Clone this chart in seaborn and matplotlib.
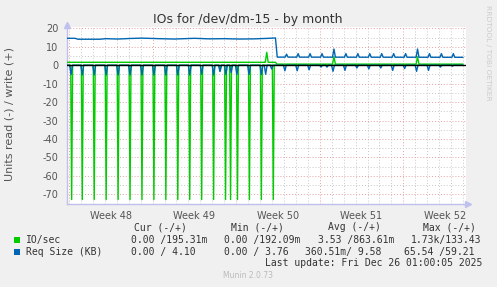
import numpy as np
import pandas as pd
import matplotlib
matplotlib.use("Agg")
import matplotlib.pyplot as plt
import seaborn as sns

# ---------------- data (x in days from start of Week 48) ----------------
week_labels = ["Week 48", "Week 49", "Week 50", "Week 51", "Week 52"]
week_starts = [0, 7, 14, 21, 28]
x_start, x_end = -0.17, 33.25

# IO/sec read (plotted negative): baseline + daily spikes
io_read_base_days = [-0.17, 33.0]
io_read_base_vals = [0.0, 0.0]
io_read_spike_days = [0.22, 1.11, 2.11, 3.11, 4.11, 5.11, 6.11, 7.11, 8.11, 9.11,
                      10.11, 11.11, 12.11, 12.67, 13.11, 13.53, 14.11, 15.11, 16.11, 17.11]
io_read_spike_vals = [72.8, 72.8, 72.8, 72.8, 72.8, 72.8, 72.8, 72.8, 72.8, 72.8,
                      72.8, 72.8, 72.8, 3.1, 72.8, 72.8, 72.8, 72.8, 72.8, 72.8]

# IO/sec write (positive)
io_write_base_days = [-0.17, 16.4, 17.29, 17.42, 33.0]
io_write_base_vals = [1.6, 1.6, 1.6, 0.6, 0.6]
io_write_spike_days = [16.56, 22.19, 29.19]
io_write_spike_vals = [7.0, 4.6, 4.6]

# Req Size (KB) write (positive)
rs_write_base_days = [-0.17, 0.5, 0.75, 2.58, 3.08, 4.08, 5.08, 6.08, 7.58, 8.83,
                      10.5, 11.75, 13.0, 14.25, 15.5, 16.75, 17.29, 17.44, 33.0]
rs_write_base_vals = [14.6, 14.6, 14.1, 14.1, 14.4, 14.2, 14.5, 14.7, 14.4, 14.2,
                      14.6, 14.3, 14.4, 14.2, 14.3, 14.6, 14.8, 4.4, 4.3]
rs_write_spike_days = [18.22, 19.19, 20.19, 21.19, 22.19, 23.19, 24.19, 25.19,
                       26.19, 27.19, 28.19, 29.19, 30.19, 31.19, 32.19]
rs_write_spike_vals = [6.0, 6.3, 6.3, 6.3, 8.8, 6.3, 6.3, 6.3,
                       6.3, 6.3, 6.3, 8.8, 6.3, 6.3, 6.3]

# Req Size (KB) read (plotted negative)
rs_read_base_days = [-0.17, 33.0]
rs_read_base_vals = [0.0, 0.0]
rs_read_spike_days = [0.17, 1.11, 2.11, 3.11, 4.11, 5.11, 6.11, 7.11, 8.11, 9.11,
                      10.11, 11.11, 12.11, 12.64, 13.14, 13.58, 14.06, 15.08, 16.11,
                      16.47, 16.97, 18.08, 19.11, 20.11, 21.11, 21.61, 22.11, 23.11,
                      24.11, 25.11, 26.11, 27.11, 28.11, 29.11, 30.11, 31.11, 32.11]
rs_read_spike_vals = [5.0, 5.3, 5.3, 5.3, 5.3, 5.3, 5.3, 5.3, 5.3, 5.3,
                      5.3, 4.9, 5.3, 3.4, 5.0, 4.0, 5.0, 5.0, 5.0,
                      4.9, 2.0, 3.0, 3.0, 2.5, 1.0, 1.0, 3.3, 2.8,
                      1.5, 2.0, 1.5, 2.8, 1.8, 3.3, 2.8, 1.0, 0.5]

legend_header = ["Cur (-/+)", "Min (-/+)", "Avg (-/+)", "Max (-/+)"]
io_stats = ["0.00 /195.31m", "0.00 /192.09m", "3.53 /863.61m", "1.73k/133.43"]
rs_stats = ["0.00 / 4.10", "0.00 / 3.76", "360.51m/ 9.58", "65.54 /59.21"]

GREEN = "#00CC00"
BLUE = "#0066B3"


def build(base_d, base_v, spike_d, spike_v, half, sign=1.0):
    xs = list(base_d)
    ys = list(base_v)
    for d, v in zip(spike_d, spike_v):
        b = float(np.interp(d, base_d, base_v))
        xs += [d - half, d, d + half]
        ys += [b, v, b]
    order = np.argsort(np.array(xs), kind="stable")
    return pd.DataFrame({"day": np.array(xs)[order],
                         "value": sign * np.array(ys)[order]})


io_read = build(io_read_base_days, io_read_base_vals, io_read_spike_days, io_read_spike_vals, 0.08, -1)
io_write = build(io_write_base_days, io_write_base_vals, io_write_spike_days, io_write_spike_vals, 0.12)
rs_write = build(rs_write_base_days, rs_write_base_vals, rs_write_spike_days, rs_write_spike_vals, 0.12)
rs_read = build(rs_read_base_days, rs_read_base_vals, rs_read_spike_days, rs_read_spike_vals, 0.12, -1)

# ---------------- figure ----------------
sns.set_style("white")
plt.rcParams["font.family"] = ["DejaVu Sans"]

W, H = 497, 287
fig = plt.figure(figsize=(W / 100, H / 100), dpi=100, facecolor="#F0F0F0")
ax = fig.add_axes([67 / W, 1 - 203.6 / H, (466 - 67) / W, (203.6 - 26.5) / H])
ax.set_facecolor("white")
ax.set_xlim(x_start, x_end)
ax.set_ylim(-75, 21)

dot = (0, (1, 2))
for d in range(0, 34):
    if d in week_starts:
        continue
    ax.axvline(d, color="#C8C8C8", lw=0.7, ls=dot, zorder=1)
for d in week_starts:
    ax.axvline(d, color="#E8A0A0", lw=0.7, ls=dot, zorder=1)
for yv in range(-75, 21, 5):
    if yv == 0:
        continue
    col = "#E8A0A0" if yv % 10 == 0 else "#C8C8C8"
    ax.axhline(yv, color=col, lw=0.7, ls=dot, zorder=1)

for df, col in [(io_read, GREEN), (io_write, GREEN), (rs_read, BLUE), (rs_write, BLUE)]:
    sns.lineplot(data=df, x="day", y="value", estimator=None, sort=False,
                 color=col, linewidth=1.0, ax=ax, legend=False, zorder=3)

ax.axhline(0, color="black", lw=1.0, zorder=4)

# axes
for s in ["top", "right"]:
    ax.spines[s].set_visible(False)
for s in ["left", "bottom"]:
    ax.spines[s].set_color("#C0C0EE")
    ax.spines[s].set_linewidth(1.0)
ax.plot([x_start], [22.0], marker="^", ms=4.5, color="#C0C0EE", clip_on=False, zorder=5)
ax.plot([33.45], [-75], marker=">", ms=4.5, color="#C0C0EE", clip_on=False, zorder=5)

ax.set_yticks(list(range(-70, 21, 10)))
ax.set_yticklabels([str(v) for v in range(-70, 21, 10)])
ax.set_yticks(list(range(-75, 21, 5)), minor=True)
ax.tick_params(axis="y", which="major", length=2, color="#E09090", labelsize=7,
               labelcolor="#555555", pad=4)
ax.tick_params(axis="y", which="minor", length=2, color="#C8C8C8")

ax.set_xticks([s + 3.5 for s in week_starts])
ax.set_xticklabels(week_labels)
ax.set_xticks(list(range(0, 34)), minor=True)
ax.tick_params(axis="x", which="major", length=0, labelsize=7, labelcolor="#555555", pad=5)
ax.tick_params(axis="x", which="minor", length=2, color="#C8C8C8")
ax.set_xlabel("")
ax.set_ylabel("")

# texts
def fx(px):
    return px / W

def fy(py):
    return 1 - py / H

fig.text(fx(248), fy(19.5), "IOs for /dev/dm-15 - by month", ha="center", va="center",
         fontsize=9, color="#333333")
fig.text(fx(10), fy(114), "Units read (-) / write (+)", rotation=90, ha="center",
         va="center", fontsize=8, color="#555555")
fig.text(fx(488), fy(53), "RRDTOOL / TOBI OETIKER", rotation=-90, ha="center", va="center",
         fontsize=5.4, color="#CCCCCC")

mono = "DejaVu Sans Mono"
tc = "#333333"
for x0, t in zip([134.3, 230.7, 327.7, 422.7], legend_header):
    fig.text(fx(x0), fy(227.5), t, ha="left", va="center", fontsize=7, family=mono, color=tc)

fig.patches.append(plt.Rectangle((fx(14), fy(243)), 6 / W, 6 / H, transform=fig.transFigure,
                                 facecolor=GREEN, edgecolor="none"))
fig.patches.append(plt.Rectangle((fx(14), fy(255)), 6 / W, 6 / H, transform=fig.transFigure,
                                 facecolor=BLUE, edgecolor="none"))
fig.text(fx(26.3), fy(239.7), "IO/sec", ha="left", va="center", fontsize=7, family=mono, color=tc)
fig.text(fx(26.3), fy(251.7), "Req Size (KB)", ha="left", va="center", fontsize=7, family=mono, color=tc)
for x0, t in zip([131.3, 224.3, 317.7, 410.7], io_stats):
    fig.text(fx(x0), fy(239.7), t, ha="left", va="center", fontsize=7, family=mono, color=tc)
for x0, t in zip([131.3, 224.3, 305.3, 404.3], rs_stats):
    fig.text(fx(x0), fy(251.7), t, ha="left", va="center", fontsize=7, family=mono, color=tc)
fig.text(fx(482.3), fy(263.5), "Last update: Fri Dec 26 01:00:05 2025", ha="right", va="center",
         fontsize=7, family=mono, color=tc)
fig.text(fx(248), fy(276), "Munin 2.0.73", ha="center", va="center", fontsize=5.5,
         color="#BBBBBB")

fig.savefig("out.png", dpi=100, facecolor="#F0F0F0")
